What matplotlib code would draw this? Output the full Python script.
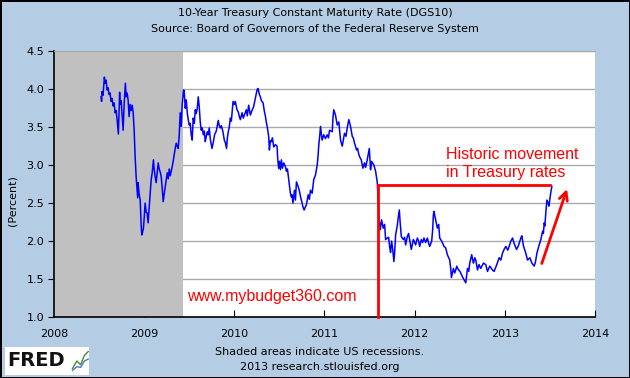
import matplotlib
matplotlib.use("Agg")
import matplotlib.pyplot as plt
from matplotlib.patches import Rectangle

# 10-year treasury rate (decimal year, percent)
years = [
    2008.522, 2008.528, 2008.533, 2008.544, 2008.559, 2008.567, 2008.578, 2008.589, 2008.600, 2008.611,
    2008.622, 2008.633, 2008.644, 2008.656, 2008.667, 2008.678, 2008.689, 2008.700, 2008.714, 2008.722,
    2008.728, 2008.733, 2008.744, 2008.756, 2008.767, 2008.778, 2008.792, 2008.800, 2008.811, 2008.822,
    2008.833, 2008.844, 2008.856, 2008.867, 2008.878, 2008.889, 2008.900, 2008.906, 2008.911, 2008.922,
    2008.928, 2008.933, 2008.944, 2008.956, 2008.967, 2008.974, 2008.983, 2008.992,
    2009.000, 2009.011, 2009.022, 2009.033, 2009.044, 2009.056, 2009.067, 2009.078, 2009.089, 2009.103,
    2009.111, 2009.122, 2009.133, 2009.144, 2009.156, 2009.167, 2009.178, 2009.189, 2009.200, 2009.211,
    2009.222, 2009.233, 2009.244, 2009.256, 2009.267, 2009.278, 2009.289, 2009.300, 2009.311, 2009.322,
    2009.333, 2009.344, 2009.356, 2009.367, 2009.378, 2009.389, 2009.400, 2009.411, 2009.422, 2009.437,
    2009.444, 2009.456, 2009.467, 2009.478, 2009.489, 2009.500, 2009.511, 2009.522, 2009.533, 2009.544,
    2009.556, 2009.567, 2009.578, 2009.589, 2009.600, 2009.611, 2009.622, 2009.633, 2009.644, 2009.656,
    2009.667, 2009.678, 2009.689, 2009.700, 2009.711, 2009.722, 2009.733, 2009.752, 2009.767, 2009.781,
    2009.800, 2009.822, 2009.833, 2009.844, 2009.856, 2009.874, 2009.889, 2009.900, 2009.914, 2009.922,
    2009.933, 2009.944, 2009.956, 2009.967, 2009.986,
    2010.000, 2010.011, 2010.030, 2010.044, 2010.056, 2010.067, 2010.086, 2010.100, 2010.111, 2010.133,
    2010.144, 2010.159, 2010.178, 2010.189, 2010.214, 2010.233, 2010.252, 2010.263, 2010.278, 2010.289,
    2010.300, 2010.319, 2010.333, 2010.344, 2010.356, 2010.367, 2010.381, 2010.389, 2010.400, 2010.411,
    2010.422, 2010.437, 2010.456, 2010.474, 2010.481, 2010.492, 2010.500, 2010.511, 2010.522, 2010.533,
    2010.548, 2010.567, 2010.578, 2010.589, 2010.603, 2010.622, 2010.633, 2010.641, 2010.650, 2010.667,
    2010.678, 2010.689, 2010.708, 2010.722, 2010.733, 2010.752, 2010.761, 2010.774, 2010.789, 2010.800,
    2010.819, 2010.833, 2010.844, 2010.863, 2010.881, 2010.900, 2010.919, 2010.928, 2010.937, 2010.947,
    2010.956, 2010.974, 2010.992,
    2011.011, 2011.030, 2011.044, 2011.056, 2011.086, 2011.094, 2011.103, 2011.122, 2011.141, 2011.159,
    2011.169, 2011.178, 2011.197, 2011.211, 2011.222, 2011.239, 2011.252, 2011.270, 2011.289, 2011.308,
    2011.322, 2011.333, 2011.344, 2011.356, 2011.367, 2011.381, 2011.394, 2011.408, 2011.426, 2011.444,
    2011.456, 2011.474, 2011.497, 2011.506, 2011.511, 2011.522, 2011.548, 2011.567, 2011.586, 2011.594,
    2011.603, 2011.619, 2011.633, 2011.652, 2011.667, 2011.678, 2011.697, 2011.711, 2011.722, 2011.733,
    2011.744, 2011.756, 2011.770, 2011.778, 2011.789, 2011.808, 2011.817, 2011.830, 2011.839, 2011.852,
    2011.874, 2011.889, 2011.900, 2011.919, 2011.933, 2011.944, 2011.963, 2011.986, 2011.994,
    2012.011, 2012.030, 2012.044, 2012.056, 2012.074, 2012.089, 2012.103, 2012.122, 2012.141, 2012.156,
    2012.167, 2012.189, 2012.200, 2012.208, 2012.214, 2012.233, 2012.252, 2012.267, 2012.278, 2012.300,
    2012.311, 2012.326, 2012.344, 2012.363, 2012.378, 2012.389, 2012.400, 2012.408, 2012.430, 2012.444,
    2012.456, 2012.467, 2012.481, 2012.503, 2012.530, 2012.548, 2012.567, 2012.586, 2012.600, 2012.611,
    2012.633, 2012.644, 2012.652, 2012.667, 2012.678, 2012.697, 2012.714, 2012.733, 2012.763, 2012.789,
    2012.808, 2012.833, 2012.863, 2012.881, 2012.911, 2012.937, 2012.956, 2012.974, 2012.992,
    2013.011, 2013.033, 2013.048, 2013.067, 2013.086, 2013.103, 2013.130, 2013.148, 2013.178, 2013.189,
    2013.208, 2013.233, 2013.252, 2013.278, 2013.300, 2013.326, 2013.339, 2013.356, 2013.381, 2013.400,
    2013.419, 2013.428, 2013.437, 2013.444, 2013.456, 2013.467, 2013.481, 2013.489, 2013.511, 2013.522,
]
rates = [
    3.90, 3.84, 3.97, 3.92, 4.16, 4.08, 4.12, 3.99, 4.02, 3.93,
    3.95, 3.84, 3.88, 3.78, 3.82, 3.69, 3.72, 3.60, 3.41, 3.70,
    3.96, 3.80, 3.85, 3.66, 3.46, 3.80, 4.08, 3.90, 3.95, 3.86,
    3.64, 3.80, 3.72, 3.79, 3.70, 3.46, 3.11, 2.98, 2.85, 2.67,
    2.57, 2.77, 2.62, 2.54, 2.20, 2.08, 2.12, 2.17,
    2.30, 2.50, 2.38, 2.37, 2.24, 2.45, 2.63, 2.81, 2.90, 3.07,
    2.95, 2.85, 2.77, 2.90, 3.03, 2.95, 2.91, 2.85, 2.70, 2.52,
    2.62, 2.71, 2.80, 2.90, 2.82, 2.95, 2.86, 2.92, 2.98, 3.05,
    3.14, 3.22, 3.29, 3.25, 3.22, 3.40, 3.69, 3.51, 3.80, 3.99,
    3.98, 3.75, 3.86, 3.69, 3.60, 3.53, 3.55, 3.40, 3.33, 3.62,
    3.55, 3.73, 3.68, 3.75, 3.90, 3.77, 3.57, 3.46, 3.49, 3.40,
    3.45, 3.31, 3.38, 3.44, 3.40, 3.49, 3.35, 3.22, 3.30, 3.40,
    3.45, 3.59, 3.52, 3.49, 3.52, 3.44, 3.33, 3.30, 3.22, 3.35,
    3.44, 3.50, 3.62, 3.58, 3.84,
    3.80, 3.84, 3.73, 3.70, 3.64, 3.60, 3.69, 3.62, 3.66, 3.73,
    3.65, 3.79, 3.66, 3.70, 3.77, 3.88, 3.99, 4.01, 3.93, 3.90,
    3.85, 3.82, 3.71, 3.65, 3.56, 3.49, 3.38, 3.20, 3.32, 3.31,
    3.36, 3.24, 3.27, 3.25, 3.09, 2.96, 3.05, 2.94, 3.07, 2.96,
    3.03, 2.98, 2.92, 2.95, 2.81, 2.63, 2.58, 2.61, 2.50, 2.67,
    2.54, 2.78, 2.72, 2.66, 2.59, 2.50, 2.45, 2.41, 2.45, 2.48,
    2.61, 2.55, 2.67, 2.63, 2.81, 2.87, 3.00, 3.11, 3.27, 3.38,
    3.51, 3.33, 3.40,
    3.35, 3.40, 3.36, 3.46, 3.44, 3.62, 3.73, 3.66, 3.53, 3.57,
    3.44, 3.33, 3.25, 3.35, 3.42, 3.38, 3.49, 3.60, 3.51, 3.38,
    3.35, 3.29, 3.25, 3.20, 3.22, 3.14, 3.10, 3.07, 2.96, 3.03,
    2.97, 3.07, 3.22, 3.05, 2.94, 3.05, 3.00, 2.92, 2.77, 2.55,
    2.31, 2.15, 2.28, 2.17, 2.22, 2.02, 2.04, 2.05, 1.93, 1.85,
    2.00, 1.90, 1.73, 1.85, 2.08, 2.21, 2.30, 2.41, 2.25, 2.06,
    2.02, 2.05, 1.95, 2.06, 2.10, 2.02, 1.89, 2.02, 2.00,
    1.95, 2.04, 2.00, 1.93, 2.02, 1.98, 2.04, 1.98, 2.04, 1.97,
    1.93, 2.00, 2.15, 2.35, 2.39, 2.28, 2.17, 2.22, 2.04, 2.00,
    1.97, 1.93, 1.91, 1.82, 1.78, 1.75, 1.64, 1.52, 1.64, 1.58,
    1.62, 1.67, 1.63, 1.60, 1.53, 1.49, 1.45, 1.64, 1.60, 1.71,
    1.82, 1.75, 1.71, 1.78, 1.75, 1.62, 1.69, 1.64, 1.71, 1.69,
    1.60, 1.67, 1.62, 1.60, 1.69, 1.78, 1.75, 1.84, 1.89,
    1.93, 1.88, 1.93, 2.00, 2.04, 1.97, 1.89, 1.93, 2.04, 2.07,
    1.93, 1.84, 1.75, 1.78, 1.71, 1.67, 1.72, 1.84, 1.95, 2.02,
    2.13, 2.10, 2.24, 2.20, 2.39, 2.54, 2.50, 2.46, 2.65, 2.72,
]

# recession (Dec 2007 - Jun 2009)
recession = (2007.92, 2009.43)

# red annotation
break_year = 2011.59
break_rate = 2.74
line_end = 2013.50
arrow_from = (2013.40, 1.67)
arrow_to = (2013.70, 2.72)

bg = "#b4cde4"

fig = plt.figure(figsize=(6.3, 3.78), dpi=100, facecolor=bg)
fig.patch.set_edgecolor("black")
fig.patch.set_linewidth(2)

ax = fig.add_axes([0.0857, 0.1614, 0.8587, 0.7029])
ax.set_facecolor("white")
ax.set_xlim(2008, 2014)
ax.set_ylim(1.0, 4.5)

ax.yaxis.grid(True, color="#aaaaaa", linewidth=1)
ax.set_axisbelow(True)
ax.axvspan(recession[0], recession[1], color="#c0c0c0", zorder=1, linewidth=0)

ax.plot(years, rates, color="#0000ff", linewidth=1.1, zorder=3)

# annotations
ax.plot([break_year, break_year], [1.0, break_rate], color="red", linewidth=2, zorder=4, clip_on=False)
ax.plot([break_year, line_end], [break_rate, break_rate], color="red", linewidth=2, zorder=4)
ax.annotate("", xy=arrow_to, xytext=arrow_from,
            arrowprops=dict(arrowstyle="->,head_length=0.6,head_width=0.3", color="red", lw=2))
ax.text(2012.35, 3.14, "Historic movement", color="red", fontsize=11.5,
        family="Liberation Sans", ha="left", va="center", zorder=5)
ax.text(2012.35, 2.90, "in Treasury rates", color="red", fontsize=11.5,
        family="Liberation Sans", ha="left", va="center", zorder=5)
ax.text(2009.47, 1.27, "www.mybudget360.com", color="red", fontsize=11.5,
        family="Liberation Sans", ha="left", va="center", zorder=5)

ax.set_xticks(range(2008, 2015))
ax.set_yticks([1.0, 1.5, 2.0, 2.5, 3.0, 3.5, 4.0, 4.5])
ax.set_yticklabels(["1.0", "1.5", "2.0", "2.5", "3.0", "3.5", "4.0", "4.5"])
ax.tick_params(axis="x", direction="in", length=5, pad=9, labelsize=8, color="black")
ax.tick_params(axis="y", direction="out", length=4, pad=3, labelsize=8, color="black")

ax.spines["right"].set_visible(False)
ax.spines["top"].set_color("#aaaaaa")
ax.spines["left"].set_linewidth(1.2)
ax.spines["bottom"].set_linewidth(1.2)

ax.set_ylabel("(Percent)", fontsize=8)
ax.yaxis.set_label_coords(-0.068, 0.44)

fig.text(0.5, 0.965, "10-Year Treasury Constant Maturity Rate (DGS10)", ha="center", va="center", fontsize=8)
fig.text(0.5, 0.923, "Source: Board of Governors of the Federal Reserve System", ha="center", va="center", fontsize=8)
fig.text(0.508, 0.068, "Shaded areas indicate US recessions.", ha="center", va="center", fontsize=8)
fig.text(0.508, 0.028, "2013 research.stlouisfed.org", ha="center", va="center", fontsize=8)

# FRED logo box
fig.patches.append(Rectangle((0.008, 0.008), 0.134, 0.073, transform=fig.transFigure,
                             facecolor="white", edgecolor="none"))
fig.text(0.012, 0.045, "FRED", fontsize=14, fontweight="bold", ha="left", va="center", color="#111111")
fig.lines.append(plt.Line2D([0.115, 0.122, 0.128, 0.134, 0.14], [0.025, 0.045, 0.035, 0.06, 0.07],
                            transform=fig.transFigure, color="#4a8a3a", linewidth=1))
fig.lines.append(plt.Line2D([0.115, 0.122, 0.128, 0.134, 0.14], [0.02, 0.03, 0.028, 0.045, 0.05],
                            transform=fig.transFigure, color="#5577bb", linewidth=1))

fig.savefig("out.png", dpi=100, facecolor=bg, edgecolor="black")
